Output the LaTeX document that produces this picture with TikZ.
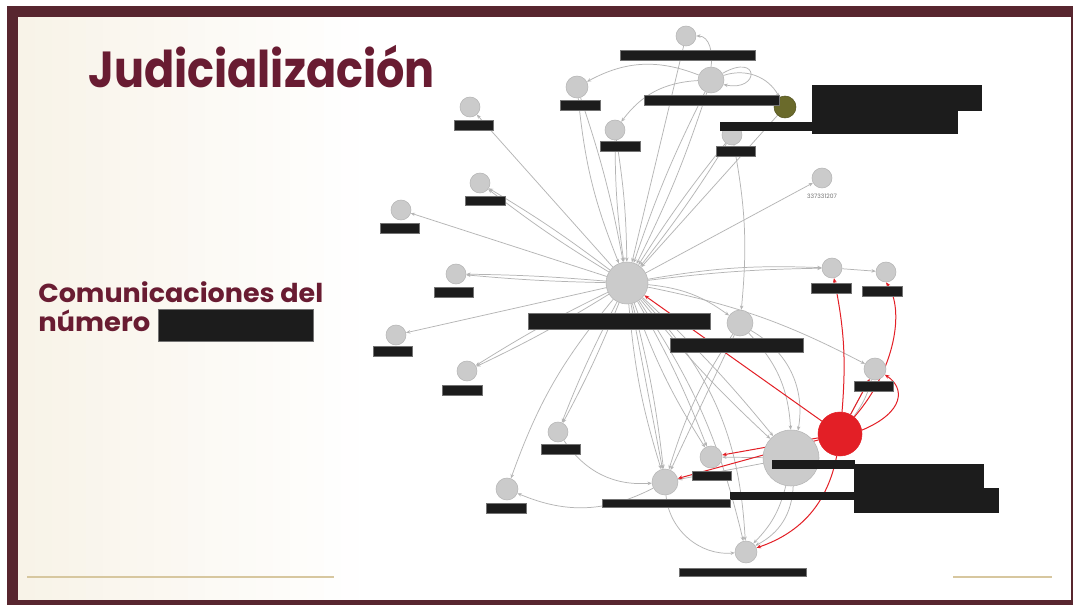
\documentclass[tikz,border=0pt]{standalone}
\usepackage{fontspec}
\setmainfont{Poppins}
\usetikzlibrary{arrows.meta,fit}
\definecolor{framec}{HTML}{58262F}
\definecolor{ttl}{HTML}{691C32}
\definecolor{gold}{HTML}{D7C79F}
\definecolor{cream}{HTML}{F8F3E8}
\definecolor{ngray}{HTML}{CBCBCB}
\definecolor{nbord}{HTML}{B5B5B5}
\definecolor{egray}{HTML}{B4B4B4}
\definecolor{ered}{HTML}{E31F26}
\definecolor{olivec}{HTML}{6A6A2B}
\definecolor{redact}{HTML}{1C1C1C}
\pgfdeclarelayer{bg}\pgfdeclarelayer{edges}\pgfsetlayers{bg,edges,main}
\tikzset{
  gn/.style={circle, fill=ngray, draw=nbord, line width=0.4pt, inner sep=0pt, minimum size=#1},
  bar/.style={fill=redact, draw=black!55, line width=0.3pt, inner sep=0pt},
  blk/.style={fill=redact, draw=none, inner sep=0pt},
  e/.style={draw=egray, line width=0.55pt, -{Stealth[length=3.2pt,width=2.6pt]}},
  r/.style={draw=ered, line width=0.75pt, -{Stealth[length=3.5pt,width=2.8pt]}},
  ttlfont/.style={text=ttl, inner sep=0pt, anchor=base west}
}
\begin{document}
\begin{tikzpicture}[x=0.75pt, y=-0.75pt]
\useasboundingbox (0,0) rectangle (1073,605);
\begin{pgfonlayer}{bg}
\fill[white] (0,0) rectangle (1073,605);
\fill[framec] (7,6) rectangle (1073,605);
\fill[white] (18,17) rectangle (1071,600);
\foreach \i in {0,...,19} {
  \pgfmathsetmacro{\pc}{100-5*\i}
  \fill[cream!\pc!white] ({18+17*\i},17) rectangle ({18+17*(\i+1)+0.5},600);
}
\draw[gold, line width=2pt] (27,577) -- (334,577);
\draw[gold, line width=2pt] (953,577) -- (1052,577);
\end{pgfonlayer}

% titles
\node[ttlfont] (title) at (88,88) {\resizebox{260pt}{\height}{\fontsize{38}{40}\selectfont\bfseries Judicializaci\'on}};
\node[ttlfont] (sub1) at (38,303) {\resizebox{213.75pt}{\height}{\fontsize{19.5}{22}\selectfont\bfseries Comunicaciones del}};
\node[ttlfont] (sub2) at (38,332) {\resizebox{84pt}{\height}{\fontsize{19.5}{22}\selectfont\bfseries n\'umero}};
\node[bar, fit={(158,309) (313,341)}] (subbox) {};

% graph nodes
\node[gn=15pt] (A) at (686,36) {};
\node[gn=19.5pt] (B) at (711,80) {};
\node[gn=16.5pt] (C) at (577,87) {};
\node[gn=15pt] (D) at (470,107) {};
\node[gn=15pt] (E) at (615,130) {};
\node[gn=16.5pt, fill=olivec, draw=olivec!80!black] (F) at (785,107) {};
\node[gn=15pt] (G) at (732,135) {};
\node[gn=15pt] (H) at (822,178) {};
\node[gn=15pt] (I) at (480,183) {};
\node[gn=15pt] (J) at (401,210) {};
\node[gn=31.5pt] (K) at (627,283) {};
\node[gn=15pt] (L) at (456,274) {};
\node[gn=15pt] (M) at (396,335) {};
\node[gn=15pt] (N) at (467,371) {};
\node[gn=19.5pt] (O) at (740,323) {};
\node[gn=15pt] (P) at (832,268) {};
\node[gn=15pt] (Q) at (886,272) {};
\node[gn=16.5pt] (R) at (875,369) {};
\node[gn=33pt, fill=ered, draw=ered] (S) at (840,434) {};
\node[gn=42pt] (T) at (791,458) {};
\node[gn=16.5pt] (U) at (711,457) {};
\node[gn=19.5pt] (V) at (665,482) {};
\node[gn=15pt] (W) at (558,432) {};
\node[gn=16.5pt] (X) at (507,489) {};
\node[gn=16.5pt] (Y) at (746,552) {};
\node[text=black!55, font=\fontsize{4.5}{5}\selectfont, inner sep=0pt] (Hlbl) at (822,196) {337331207};

% edges
\begin{pgfonlayer}{edges}
\draw[e] (K) -- (J);
\draw[e] (K) to[bend left=3] (I); \draw[e] (K) to[bend right=3] (I);
\draw[e] (K) to[bend left=2] (L); \draw[e] (K) to[bend right=2] (L);
\draw[e] (K) -- (M);
\draw[e] (K) to[bend left=3] (N); \draw[e] (K) to[bend right=3] (N);
\draw[e] (K) -- (D);
\draw[e] (C) to[bend right=8] (K); \draw[e] (C) to[bend left=4] (K);
\draw[e] (E) to[bend right=4] (K); \draw[e] (E) to[bend left=4] (K);
\draw[e] (A) -- (K);
\draw[e] (B) to[bend right=4] (K); \draw[e] (B) to[bend left=4] (K);
\draw[e] (G) to[bend right=3] (K); \draw[e] (G) to[bend left=3] (K);
\draw[e] (F) -- (K);
\draw[e] (K) -- (H);
\draw[e] (K) to[bend left=3] (P); \draw[e] (K) to[bend left=6] (P);
\draw[e] (P) -- (Q);
\draw[e] (K) to[bend left=15] (O);
\draw[e] (G) to[bend left=8] (O);
\draw[e] (K) to[bend left=8] (R);
\draw[e] (B.north) to[out=80,in=0] (A.east);
\draw[e] (B) to[bend right=25] (C);
\draw[e] (B) to[bend right=25] (E);
\draw[e] (B) to[bend left=40] (F);
\draw[e] (B.30) .. controls (760,52) and (760,92) .. (B.-20);
\draw[e] (K) to[bend left=3] (W); \draw[e] (K) to[bend right=3] (W);
\draw[e] (K) to[bend right=10] (X);
\draw[e] (K) to[bend right=6] (V); \draw[e] (K) to[bend left=4] (V); \draw[e] (K) -- (V);
\draw[e] (K) to[bend left=4] (U); \draw[e] (K) to[bend right=6] (U);
\draw[e] (K) to[bend left=4] (T); \draw[e] (K) to[bend right=4] (T);
\draw[e] (K) to[bend left=20] (Y); \draw[e] (K) to[bend left=10] (Y);
\draw[e] (W) to[bend right=30] (V);
\draw[e] (V) to[bend left=25] (X);
\draw[e] (V) to[bend right=45] (Y);
\draw[e] (T) to[bend left=30] (Y); \draw[e] (T) to[bend left=15] (Y);
\draw[e] (O) to[bend left=20] (T); \draw[e] (O) to[bend left=35] (T);
\draw[e] (O) -- (V); \draw[e] (O) to[bend right=8] (V);
\draw[e] (T) -- (U); \draw[e] (T) -- (V);
\draw[e] (S) -- (R); \draw[e] (S) to[bend right=10] (R);
% red
\draw[r] (S) -- (K);
\draw[r] (S) to[bend right=8] (P);
\draw[r] (S) -- (R);
\draw[r] (S.10) .. controls (905,412) and (905,388) .. (R.-30);
\draw[r] (S.50) .. controls (895,370) and (905,310) .. (Q.south);
\draw[r] (S) -- (U); \draw[r] (S) -- (V);
\draw[r] (S) to[bend left=30] (Y);
\end{pgfonlayer}

% redaction bars
\node[bar, fit={(620,50) (755,60)}] (bA) {};
\node[bar, fit={(644,95) (779,105)}] (bB) {};
\node[bar, fit={(560,100) (600,110)}] (bC) {};
\node[bar, fit={(454,120) (493,130)}] (bD) {};
\node[bar, fit={(600,141) (640,151)}] (bE) {};
\node[blk, fit={(720,122) (813,131)}] (bF) {};
\node[blk, fit={(812,85) (982,111)}] (bF2) {};
\node[blk, fit={(812,110) (958,134)}] (bF3) {};
\node[bar, fit={(716,146) (755,156)}] (bG) {};
\node[bar, fit={(465,196) (505,205)}] (bI) {};
\node[bar, fit={(380,223) (419,233)}] (bJ) {};
\node[bar, fit={(528,313) (710,329)}] (bK) {};
\node[bar, fit={(434,287) (473,297)}] (bL) {};
\node[bar, fit={(373,346) (412,356)}] (bM) {};
\node[bar, fit={(442,385) (482,395)}] (bN) {};
\node[bar, fit={(670,338) (803,352)}] (bO) {};
\node[bar, fit={(811,283) (851,293)}] (bP) {};
\node[bar, fit={(862,286) (902,296)}] (bQ) {};
\node[bar, fit={(854,381) (893,391)}] (bR) {};
\node[blk, fit={(772,460) (855,469)}] (bT) {};
\node[blk, fit={(854,464) (984,489)}] (bT2) {};
\node[blk, fit={(854,488) (999,513)}] (bT3) {};
\node[blk, fit={(730,492) (855,500)}] (bT4) {};
\node[bar, fit={(692,471) (731,480)}] (bU) {};
\node[bar, fit={(602,499) (730,507)}] (bV) {};
\node[bar, fit={(541,444) (580,454)}] (bW) {};
\node[bar, fit={(486,503) (526,513)}] (bX) {};
\node[bar, fit={(679,568) (806,576)}] (bY) {};
\end{tikzpicture}
\end{document}
